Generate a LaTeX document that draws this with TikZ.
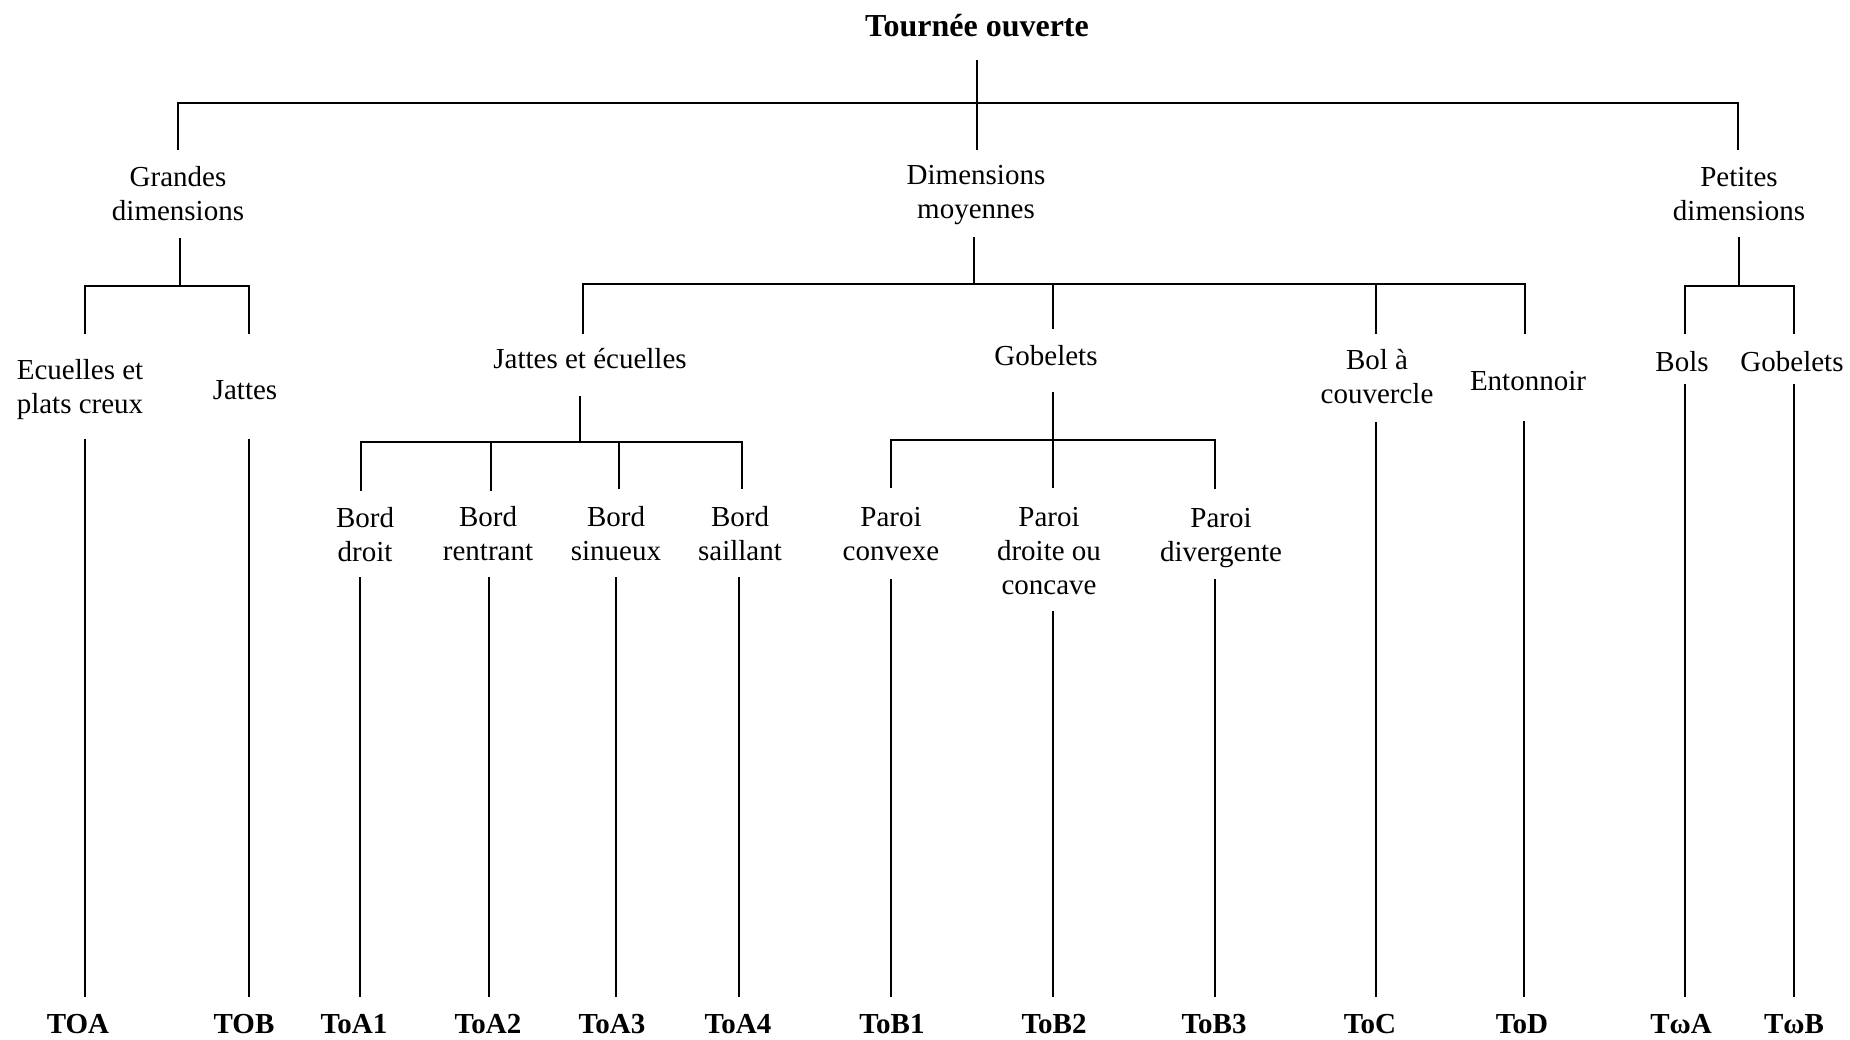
\documentclass[tikz,border=0pt]{standalone}
\usepackage{fontspec}
\setmainfont{Liberation Serif}
\begin{document}
\begin{tikzpicture}[x=1pt,y=-1pt,
  lbl/.style={font=\fontsize{29}{34}\selectfont, align=center, inner sep=0pt},
  leaf/.style={font=\fontsize{29}{34}\selectfont\bfseries, inner sep=0pt},
  ttl/.style={font=\fontsize{32}{38}\selectfont\bfseries, inner sep=0pt},
  edge/.style={line width=1.6pt, line cap=rect}]
\useasboundingbox (0,0) rectangle (1850,1040);

% ---- title and level 1
\node[ttl] (t) at (977,26) {Tournée ouverte};
\node[lbl] (gd) at (178,194) {Grandes\\dimensions};
\node[lbl] (dm) at (976,195) {Dimensions\\moyennes};
\node[lbl] (pd) at (1739,194) {Petites\\dimensions};

\coordinate (t1) at (977,61);
\coordinate (tb) at (977,103);
\coordinate (bL) at (178,103);
\coordinate (bR) at (1738,103);
\coordinate (gde) at (178,149);
\coordinate (dme) at (977,149);
\coordinate (pde) at (1738,149);
\draw[edge] (t1) -- (tb);
\draw[edge] (bL) -- (bR);
\draw[edge] (bL) -- (gde);
\draw[edge] (tb) -- (dme);
\draw[edge] (bR) -- (pde);

% ---- level 2 labels
\node[lbl] (ec) at (80,390) {Ecuelles et\\plats creux};
\node[lbl] (ja) at (245,390) {Jattes};
\node[lbl] (je) at (590,359) {Jattes et écuelles};
\node[lbl] (go) at (1046,356) {Gobelets};
\node[lbl] (bo) at (1377,377) {Bol à\\couvercle};
\node[lbl] (en) at (1528,381) {Entonnoir};
\node[lbl] (bs) at (1682,362) {Bols};
\node[lbl] (gs) at (1792,362) {Gobelets};

% Grandes dimensions branch
\coordinate (gd1) at (180,239);
\coordinate (gd2) at (180,286);
\coordinate (gdL) at (85,286);
\coordinate (gdR) at (249,286);
\coordinate (ec0) at (85,333);
\coordinate (ja0) at (249,333);
\draw[edge] (gd1) -- (gd2);
\draw[edge] (gdL) -- (gdR);
\draw[edge] (gdL) -- (ec0);
\draw[edge] (gdR) -- (ja0);

% Dimensions moyennes branch
\coordinate (dm1) at (974,238);
\coordinate (dm2) at (974,284);
\coordinate (dmL) at (583,284);
\coordinate (dmG) at (1053,284);
\coordinate (dmB) at (1376,284);
\coordinate (dmR) at (1525,284);
\coordinate (je0) at (583,333);
\coordinate (go0) at (1053,328);
\coordinate (bo0) at (1376,333);
\coordinate (en0) at (1525,333);
\draw[edge] (dm1) -- (dm2);
\draw[edge] (dmL) -- (dmR);
\draw[edge] (dmL) -- (je0);
\draw[edge] (dmG) -- (go0);
\draw[edge] (dmB) -- (bo0);
\draw[edge] (dmR) -- (en0);

% Petites dimensions branch
\coordinate (pd1) at (1739,238);
\coordinate (pd2) at (1739,286);
\coordinate (pdL) at (1685,286);
\coordinate (pdR) at (1794,286);
\coordinate (bs0) at (1685,333);
\coordinate (gs0) at (1794,333);
\draw[edge] (pd1) -- (pd2);
\draw[edge] (pdL) -- (pdR);
\draw[edge] (pdL) -- (bs0);
\draw[edge] (pdR) -- (gs0);

% ---- level 3 labels
\node[lbl] (b1) at (365,535) {Bord\\droit};
\node[lbl] (b2) at (488,534) {Bord\\rentrant};
\node[lbl] (b3) at (616,534) {Bord\\sinueux};
\node[lbl] (b4) at (740,534) {Bord\\saillant};
\node[lbl] (p1) at (891,534) {Paroi\\convexe};
\node[lbl] (p2) at (1049,551) {Paroi\\droite ou\\concave};
\node[lbl] (p3) at (1221,538) {Paroi\\divergente};

% Jattes et ecuelles branch
\coordinate (je1) at (580,397);
\coordinate (je2) at (580,442);
\coordinate (jeL) at (361,442);
\coordinate (jeA) at (491,442);
\coordinate (jeB) at (619,442);
\coordinate (jeR) at (742,442);
\coordinate (b10) at (361,490);
\coordinate (b20) at (491,490);
\coordinate (b30) at (619,488);
\coordinate (b40) at (742,488);
\draw[edge] (je1) -- (je2);
\draw[edge] (jeL) -- (jeR);
\draw[edge] (jeL) -- (b10);
\draw[edge] (jeA) -- (b20);
\draw[edge] (jeB) -- (b30);
\draw[edge] (jeR) -- (b40);

% Gobelets branch
\coordinate (go1) at (1053,393);
\coordinate (go2) at (1053,440);
\coordinate (goL) at (891,440);
\coordinate (goR) at (1215,440);
\coordinate (p10) at (891,487);
\coordinate (p20) at (1053,487);
\coordinate (p30) at (1215,488);
\draw[edge] (go1) -- (go2);
\draw[edge] (goL) -- (goR);
\draw[edge] (goL) -- (p10);
\draw[edge] (go2) -- (p20);
\draw[edge] (goR) -- (p30);

% ---- leaves
\node[leaf] (l1)  at (78,1024)   {TOA};
\node[leaf] (l2)  at (244,1024)  {TOB};
\node[leaf] (l3)  at (354,1024)  {ToA1};
\node[leaf] (l4)  at (488,1024)  {ToA2};
\node[leaf] (l5)  at (612,1024)  {ToA3};
\node[leaf] (l6)  at (738,1024)  {ToA4};
\node[leaf] (l7)  at (892,1024)  {ToB1};
\node[leaf] (l8)  at (1054,1024) {ToB2};
\node[leaf] (l9)  at (1214,1024) {ToB3};
\node[leaf] (l10) at (1370,1024) {ToC};
\node[leaf] (l11) at (1522,1024) {ToD};
\node[leaf] (l12) at (1681,1024) {TωA};
\node[leaf] (l13) at (1794,1024) {TωB};

% long vertical connectors
\coordinate (ec1) at (85,440);    \coordinate (ec2) at (85,996);
\coordinate (ja1) at (249,440);   \coordinate (ja2) at (249,996);
\coordinate (b11) at (360,578);   \coordinate (b12) at (360,996);
\coordinate (b21) at (489,578);   \coordinate (b22) at (489,996);
\coordinate (b31) at (616,578);   \coordinate (b32) at (616,996);
\coordinate (b41) at (739,578);   \coordinate (b42) at (739,996);
\coordinate (p11) at (891,580);   \coordinate (p12) at (891,996);
\coordinate (p21) at (1053,612);  \coordinate (p22) at (1053,996);
\coordinate (p31) at (1215,580);  \coordinate (p32) at (1215,996);
\coordinate (bo1) at (1376,423);  \coordinate (bo2) at (1376,996);
\coordinate (en1) at (1524,422);  \coordinate (en2) at (1524,996);
\coordinate (bs1) at (1685,385);  \coordinate (bs2) at (1685,996);
\coordinate (gs1) at (1794,385);  \coordinate (gs2) at (1794,996);
\foreach \a/\b in {ec1/ec2,ja1/ja2,b11/b12,b21/b22,b31/b32,b41/b42,p11/p12,p21/p22,p31/p32,bo1/bo2,en1/en2,bs1/bs2,gs1/gs2}
  \draw[edge] (\a) -- (\b);
\end{tikzpicture}
\end{document}
